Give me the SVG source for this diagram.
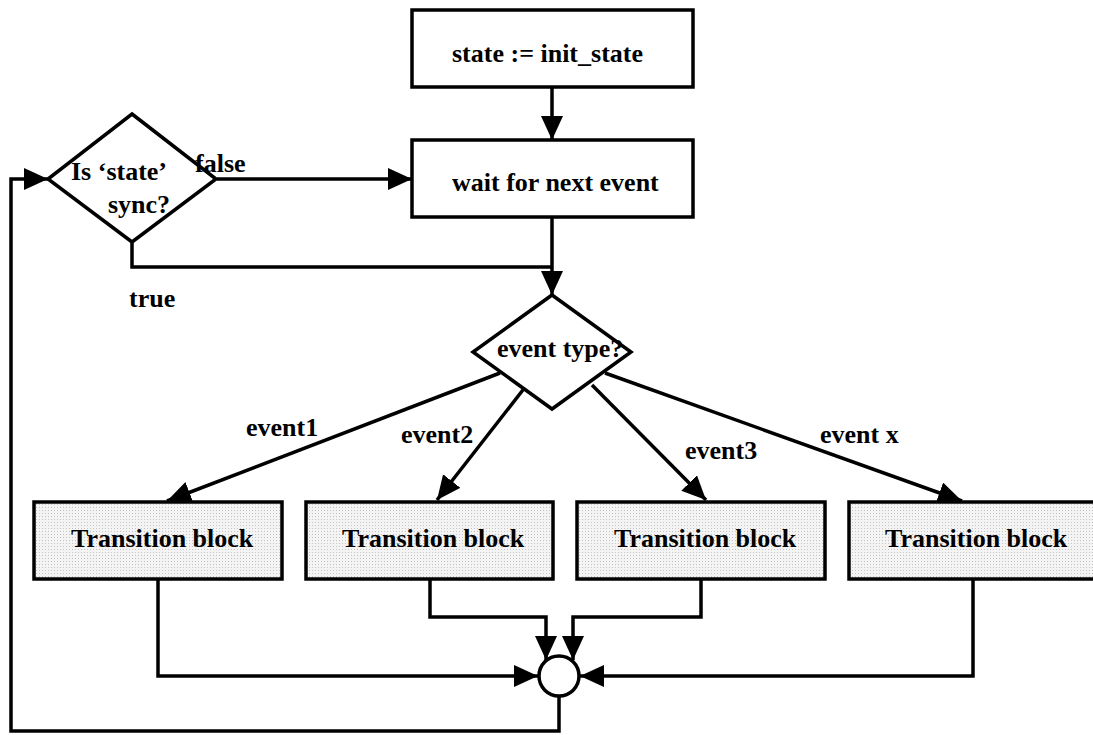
<svg xmlns="http://www.w3.org/2000/svg" width="1093" height="735" viewBox="0 0 1093 735">
<style>
.box{fill:#fff;stroke:#000;stroke-width:3.5}
.tb{fill:url(#dots);stroke:#000;stroke-width:3.5}
.ln{fill:none;stroke:#000;stroke-width:3.5}
.arr{fill:none;stroke:#000;stroke-width:3.5;marker-end:url(#ah)}
text{font-family:"Liberation Serif","Times New Roman",serif;font-weight:bold;font-size:26px;fill:#000}
</style>
<defs>
<pattern id="dots" width="3" height="3" patternUnits="userSpaceOnUse">
<rect width="3" height="3" fill="#f4f4f4"/>
<rect width="1" height="1" fill="#c4c4c4"/>
</pattern>
<marker id="ah" markerUnits="userSpaceOnUse" markerWidth="26" markerHeight="24" refX="24" refY="11" orient="auto" viewBox="0 0 26 24">
<path d="M0,0 L24,11 L0,22 z" fill="#000"/>
</marker>
</defs>
<g id="connectors">
<line class="arr" x1="552" y1="87" x2="552" y2="140"/>
<line class="arr" x1="217" y1="179" x2="412" y2="179"/>
<line class="arr" x1="552" y1="217" x2="552" y2="295"/>
<polyline class="ln" points="132,242 132,267 552,267"/>
<line class="arr" x1="500" y1="373" x2="167" y2="501"/>
<line class="arr" x1="526" y1="386" x2="437" y2="500"/>
<line class="arr" x1="592" y1="385" x2="706" y2="500"/>
<line class="arr" x1="605" y1="373" x2="962" y2="501"/>
<polyline class="arr" points="158,579 158,676 538,676"/>
<polyline class="arr" points="430,579 430,617 546,617 546,660"/>
<polyline class="arr" points="701,579 701,617 573,617 573,660"/>
<polyline class="arr" points="973,579 973,676 580,676"/>
<polyline class="arr" points="559,696 559,731 11,731 11,179 48,179"/>
</g>
<g id="init"><rect class="box" x="412" y="10" width="281" height="77"/><text x="452" y="62">state := init_state</text></g>
<g id="wait"><rect class="box" x="412" y="140" width="281" height="77"/><text x="452" y="191">wait for next event</text></g>
<g id="sync"><polygon class="box" points="132,114 216,179 132,242 48,179"/><text x="71" y="180">Is ‘state’</text><text x="108" y="213">sync?</text></g>
<g id="evtype"><polygon class="box" points="552,295 631,352 552,409 473,352"/><text x="497" y="357">event type?</text></g>
<g id="tb1"><rect class="tb" x="34" y="502" width="248" height="77"/><text x="71" y="547">Transition block</text></g>
<g id="tb2"><rect class="tb" x="306" y="502" width="247" height="77"/><text x="342" y="547">Transition block</text></g>
<g id="tb3"><rect class="tb" x="577" y="502" width="248" height="77"/><text x="614" y="547">Transition block</text></g>
<g id="tb4"><rect class="tb" x="849" y="502" width="248" height="77"/><text x="885" y="547">Transition block</text></g>
<g id="join"><circle class="box" cx="559" cy="676" r="20"/></g>
<g id="labels">
<text x="195" y="172">false</text>
<text x="129" y="307">true</text>
<text x="246" y="436">event1</text>
<text x="401" y="443">event2</text>
<text x="685" y="459">event3</text>
<text x="820" y="443">event x</text>
</g>
</svg>
